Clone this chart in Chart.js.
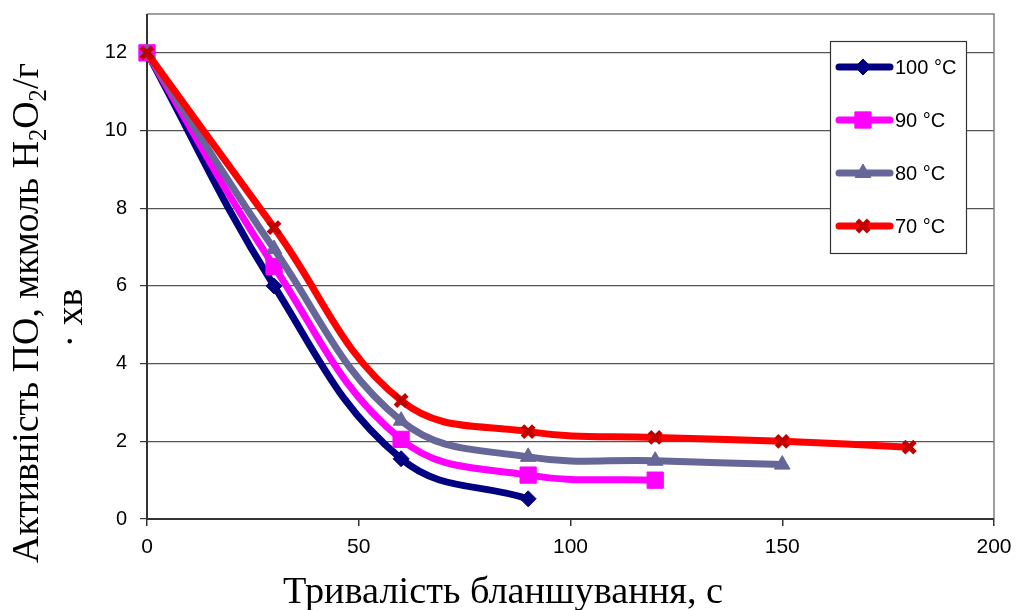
<!DOCTYPE html>
<html><head><meta charset="utf-8">
<script src="https://cdn.jsdelivr.net/npm/chart.js@4/dist/chart.umd.min.js"></script>
<style>html,body{margin:0;padding:0;background:#fff;}#wrap{width:1019px;height:610px;position:relative;}</style>
</head><body><div id="wrap"><canvas id="c" width="1019" height="610"></canvas></div>
<script>
const seriesLabels = ['100 °C', '90 °C', '80 °C', '70 °C'];
const times = [0, 30, 60, 90, 120, 150, 180];
const act100 = [12, 6.0, 1.55, 0.52];
const act90 = [12, 6.5, 2.05, 1.13, 1.0];
const act80 = [12, 6.95, 2.53, 1.6, 1.5, 1.4];
const act70 = [12, 7.5, 3.05, 2.25, 2.1, 2.0, 1.85];
const xTicks = [0, 50, 100, 150, 200];
const yTicks = [0, 2, 4, 6, 8, 10, 12];

const styles = [
  {color:'#000080', point:'rectRot', pcolor:'#000080', r:8, bw:1},
  {color:'#ff00ff', point:'rect', pcolor:'#ff00ff', r:11.5, bw:1},
  {color:'#666699', point:'triangle', pcolor:'#666699', r:9, bw:1},
  {color:'#ff0000', point:'crossRot', pcolor:'#c00000', r:8, bw:5}
];
const allVals = [act100, act90, act80, act70];
const datasets = allVals.map((vals, i) => ({
  label: seriesLabels[i],
  data: vals.map((v, k) => ({x: times[k], y: v})),
  borderColor: styles[i].color,
  backgroundColor: styles[i].pcolor,
  pointBorderColor: styles[i].pcolor,
  pointBackgroundColor: styles[i].pcolor,
  pointStyle: styles[i].point,
  pointRadius: styles[i].r,
  pointBorderWidth: styles[i].bw,
  borderWidth: 7,
  tension: 0.4,
  order: 3 - i,
  clip: false
}));

const SERIF = '"Liberation Serif", "Times New Roman", serif';

const frame = {
  id: 'frame',
  beforeDatasetsDraw(chart) {
    const {ctx, chartArea: a} = chart;
    ctx.save();
    ctx.strokeStyle = '#808080'; ctx.lineWidth = 1.5;
    ctx.beginPath();
    ctx.moveTo(a.left, a.top); ctx.lineTo(a.right, a.top); ctx.lineTo(a.right, a.bottom);
    ctx.stroke();
    ctx.strokeStyle = '#333'; ctx.lineWidth = 2;
    ctx.beginPath();
    ctx.moveTo(a.left, a.top); ctx.lineTo(a.left, a.bottom); ctx.lineTo(a.right, a.bottom);
    ctx.stroke();
    ctx.restore();
  },
  afterDraw(chart) {
    const ctx = chart.ctx;
    // Legend
    ctx.save();
    ctx.fillStyle = '#fff'; ctx.fillRect(830, 41, 136, 212);
    ctx.strokeStyle = '#333'; ctx.lineWidth = 1.2; ctx.strokeRect(830.5, 41.5, 136, 212);
    const ys = [67, 120, 173, 226];
    chart.data.datasets.forEach((ds, i) => {
      const y = ys[i];
      ctx.strokeStyle = ds.borderColor; ctx.lineWidth = 7; ctx.lineCap = 'round';
      ctx.beginPath(); ctx.moveTo(839, y); ctx.lineTo(890, y); ctx.stroke();
      ctx.lineCap = 'butt';
      ctx.fillStyle = ds.pointBackgroundColor; ctx.strokeStyle = ds.pointBorderColor; ctx.lineWidth = ds.pointBorderWidth;
      Chart.helpers.drawPoint(ctx, {pointStyle: ds.pointStyle, radius: ds.pointRadius, borderWidth: ds.pointBorderWidth, rotation: 0}, 863, y);
      ctx.fillStyle = '#000'; ctx.font = '20px "Liberation Sans", Arial, sans-serif';
      ctx.textBaseline = 'middle'; ctx.textAlign = 'left';
      ctx.fillText(ds.label, 895, y + 1);
    });
    ctx.restore();
    // Y title with subscript
    ctx.save();
    ctx.translate(38, 313);
    ctx.rotate(-Math.PI / 2);
    const fit = (size) => {
      const segs = [
        ['Активність ПО, мкмоль H', size, 0], ['2', size * 0.65, size * 0.22],
        ['O', size, 0], ['2', size * 0.65, size * 0.22], ['/г', size, 0]
      ];
      let total = 0;
      segs.forEach(s => { ctx.font = s[1] + 'px ' + SERIF; total += ctx.measureText(s[0]).width; });
      return {segs, total};
    };
    let t = fit(36);
    t = fit(36 * 500 / t.total);
    let x = -t.total / 2;
    ctx.fillStyle = '#000'; ctx.textBaseline = 'alphabetic'; ctx.textAlign = 'left';
    t.segs.forEach(s => { ctx.font = s[1] + 'px ' + SERIF; ctx.fillText(s[0], x, s[2]); x += ctx.measureText(s[0]).width; });
    ctx.font = t.segs[0][1] + 'px ' + SERIF; ctx.textAlign = 'center';
    ctx.fillText('· хв', -5, 44);
    ctx.restore();
    // X title
    ctx.save();
    const xt = 'Тривалість бланшування, с';
    ctx.font = '36px ' + SERIF;
    const w = ctx.measureText(xt).width;
    ctx.font = (36 * 440 / w).toFixed(1) + 'px ' + SERIF;
    ctx.fillStyle = '#000'; ctx.textAlign = 'center'; ctx.textBaseline = 'alphabetic';
    ctx.fillText(xt, 503, 603);
    ctx.restore();
  }
};

new Chart(document.getElementById('c'), {
  type: 'line',
  data: {datasets},
  plugins: [frame],
  options: {
    responsive: false,
    animation: false,
    layout: {padding: {top: 14, right: 25, left: 0, bottom: 0}},
    plugins: {legend: {display: false}, tooltip: {enabled: false}},
    scales: {
      x: {
        type: 'linear', min: 0, max: 200,
        afterFit(s) { s.height = 91; s.paddingLeft = 0; s.paddingRight = 0; },
        afterBuildTicks(s) { s.ticks = xTicks.map(v => ({value: v})); },
        border: {display: false},
        grid: {display: true, drawOnChartArea: false, tickLength: 7, color: '#333', lineWidth: 1.5},
        ticks: {color: '#000', font: {family: '"Liberation Sans", Arial', size: 21}, padding: 9, maxRotation: 0}
      },
      y: {
        type: 'linear', min: 0, max: 13,
        afterFit(s) { s.width = 147; s.paddingTop = 0; s.paddingBottom = 0; },
        afterBuildTicks(s) { s.ticks = yTicks.map(v => ({value: v})); },
        border: {display: false},
        grid: {color: '#555', lineWidth: 1.2, tickLength: 7, tickColor: '#333'},
        ticks: {color: '#000', font: {family: '"Liberation Sans", Arial', size: 20}, padding: 13}
      }
    }
  }
});
</script></body></html>
